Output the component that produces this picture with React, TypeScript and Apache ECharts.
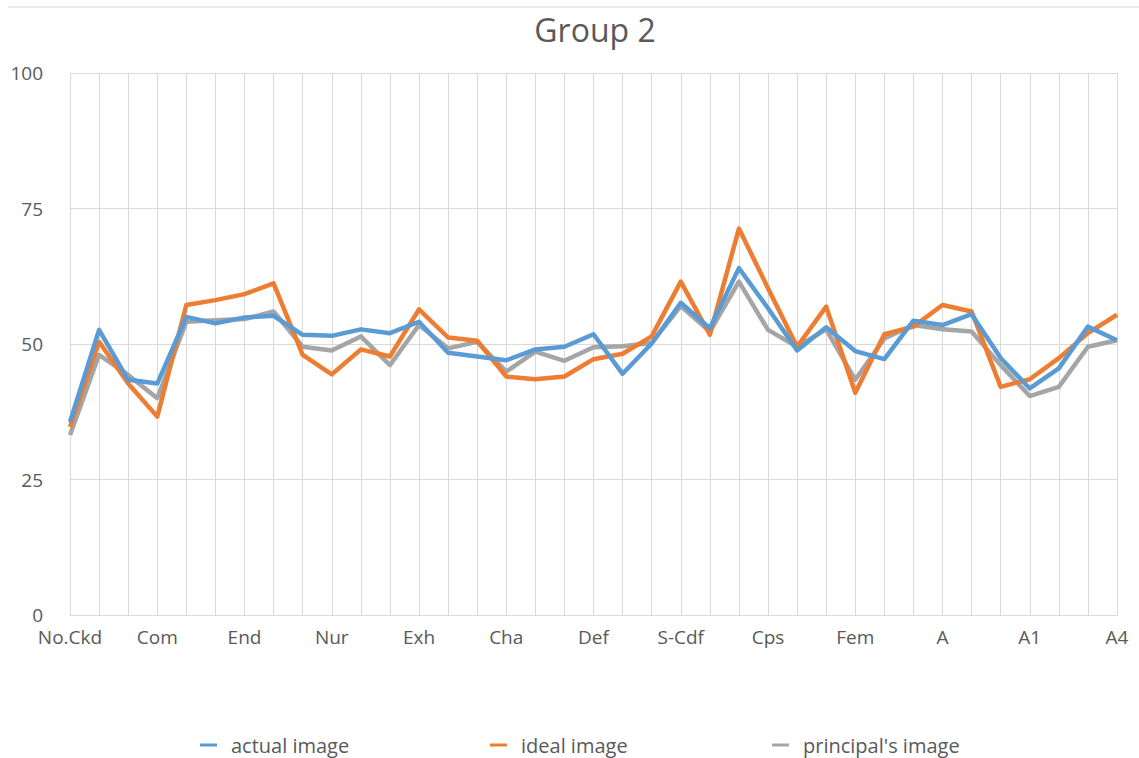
import React, { useEffect, useRef } from "react";
import * as echarts from "echarts";

const categories = [
  "No.Ckd", "Fav", "Unfav", "Com", "Ach", "Dom", "End", "Ord", "Int", "Nur",
  "Aff", "Het", "Exh", "Aut", "Agg", "Cha", "Suc", "Aba", "Def", "Crs",
  "S-Cn", "S-Cdf", "P-Adj", "Iss", "Cps", "Mls", "Mas", "Fem", "CP", "NP",
  "A", "FC", "AC", "A1", "A2", "A3", "A4",
];

const actualImage = [
  35.6, 52.6, 43.4, 42.7, 55.0, 53.8, 54.9, 55.2, 51.7, 51.5,
  52.7, 52.0, 54.1, 48.4, 47.7, 47.0, 49.0, 49.5, 51.8, 44.5,
  50.1, 57.6, 52.9, 64.0, 56.6, 48.8, 53.1, 48.7, 47.2, 54.3,
  53.5, 55.5, 47.4, 41.8, 45.5, 53.2, 50.7,
];

const idealImage = [
  34.7, 50.4, 42.7, 36.6, 57.2, 58.1, 59.2, 61.2, 48.0, 44.4,
  49.0, 47.7, 56.4, 51.2, 50.6, 44.0, 43.5, 44.0, 47.2, 48.2,
  51.4, 61.5, 51.7, 71.3, 60.3, 49.5, 56.9, 41.0, 51.8, 53.2,
  57.2, 56.0, 42.1, 43.5, 47.4, 52.0, 55.4,
];

const principalImage = [
  33.2, 48.0, 44.3, 40.0, 54.1, 54.4, 54.6, 56.0, 49.5, 48.8,
  51.4, 46.1, 53.5, 49.2, 50.4, 44.9, 48.6, 46.9, 49.4, 49.6,
  50.2, 57.0, 52.3, 61.5, 52.6, 49.5, 52.7, 43.4, 51.0, 53.5,
  52.7, 52.3, 46.1, 40.4, 42.1, 49.5, 50.7,
];

const yTicks = { min: 0, max: 100, interval: 25 };

const FONT = "'Open Sans', sans-serif";
const TEXT = "#595959";
const GRID = "#D9D9D9";

export default function App() {
  const ref = useRef<HTMLDivElement>(null);

  useEffect(() => {
    document.body.style.margin = "0";
    if (!ref.current) return;
    const chart = echarts.init(ref.current, null, { renderer: "svg" });
    const legendStyle = {
      top: 728,
      icon: "rect",
      itemWidth: 17,
      itemHeight: 3,
      itemGap: 14,
      textStyle: {
        color: TEXT,
        fontSize: 20,
        fontFamily: FONT,
        lineHeight: 24,
        padding: [0, 0, 0, 9],
      },
    };
    chart.setOption({
      animation: false,
      backgroundColor: "#ffffff",
      graphic: [
        {
          type: "line",
          shape: { x1: 8, y1: 7, x2: 1139, y2: 7 },
          style: { stroke: GRID, lineWidth: 1 },
        },
        {
          type: "text",
          x: 595,
          y: 29,
          style: {
            text: "Group 2",
            fill: TEXT,
            fontSize: 32,
            fontFamily: FONT,
            textAlign: "center",
            textVerticalAlign: "middle",
          },
        },
      ],
      legend: [
        { ...legendStyle, left: 195, data: ["actual image"] },
        { ...legendStyle, left: 485, data: ["ideal image"] },
        { ...legendStyle, left: 767, data: ["principal's image"] },
      ],
      grid: { left: 70, right: 22, top: 73, bottom: 143, containLabel: false },
      xAxis: {
        type: "category",
        data: categories,
        boundaryGap: false,
        axisLine: { show: true, lineStyle: { color: GRID, width: 1 } },
        axisTick: { show: false },
        axisLabel: {
          interval: 2,
          color: TEXT,
          fontSize: 19,
          fontFamily: FONT,
          margin: 12,
          lineHeight: 19,
        },
        splitLine: { show: true, interval: 0, lineStyle: { color: GRID, width: 1 } },
      },
      yAxis: {
        type: "value",
        min: yTicks.min,
        max: yTicks.max,
        interval: yTicks.interval,
        axisLine: { show: false },
        axisTick: { show: false },
        axisLabel: { color: TEXT, fontSize: 19, fontFamily: FONT, margin: 27, lineHeight: 15 },
        splitLine: { show: true, lineStyle: { color: GRID, width: 1 } },
      },
      series: [
        {
          name: "actual image",
          type: "line",
          data: actualImage,
          z: 4,
          symbol: "none",
          color: "#5B9BD5",
          lineStyle: { width: 4.5, color: "#5B9BD5", join: "round" },
        },
        {
          name: "ideal image",
          type: "line",
          data: idealImage,
          z: 3,
          symbol: "none",
          color: "#ED7D31",
          lineStyle: { width: 4.5, color: "#ED7D31", join: "round" },
        },
        {
          name: "principal's image",
          type: "line",
          data: principalImage,
          z: 2,
          symbol: "none",
          color: "#A5A5A5",
          lineStyle: { width: 4.5, color: "#A5A5A5", join: "round" },
        },
      ],
    });
    return () => chart.dispose();
  }, []);

  return <div ref={ref} style={{ width: 1139, height: 758 }} />;
}
